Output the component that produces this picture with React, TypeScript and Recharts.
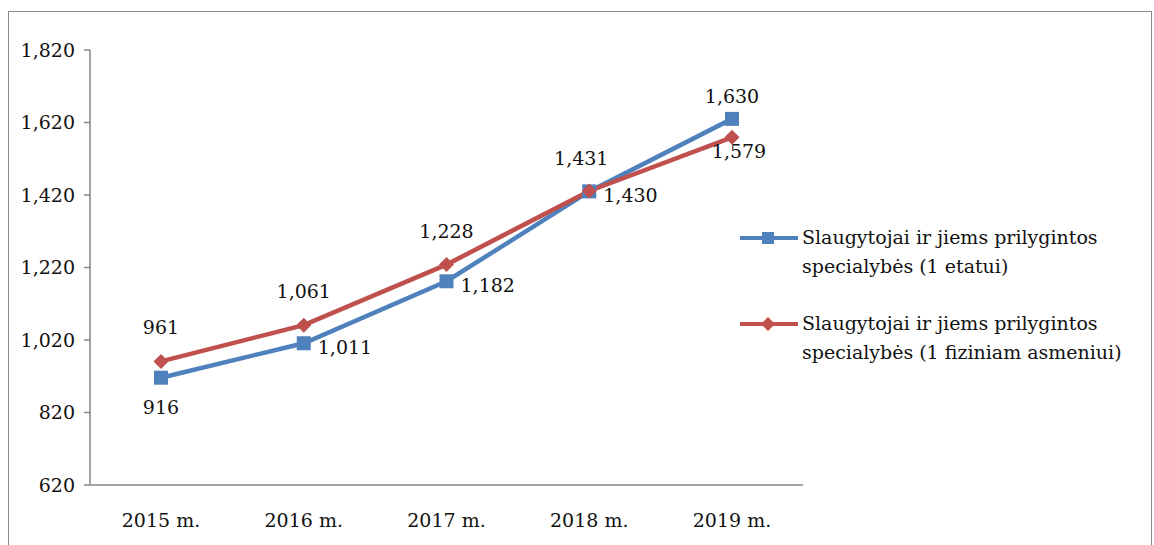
import { LineChart, Line, XAxis, YAxis, Legend, LabelList } from "recharts";

const years = ["2015 m.", "2016 m.", "2017 m.", "2018 m.", "2019 m."];
const perPost = [916, 1011, 1182, 1430, 1630];
const perPerson = [961, 1061, 1228, 1431, 1579];
const yTicks = [620, 820, 1020, 1220, 1420, 1620, 1820];
const bandEdges = [0, 1, 2, 3, 4, 5];

const seriesNames = [
  ["Slaugytojai ir jiems prilygintos", "specialybės (1 etatui)"],
  ["Slaugytojai ir jiems prilygintos", "specialybės (1 fiziniam asmeniui)"],
];

// where each value label sits relative to its point
const bluePlace = ["below", "right", "right", "right", "aboveNear"];
const redPlace = ["above", "above", "above", "aboveLeft", "belowRight"];

const BLUE = "#4F81BD";
const RED = "#C0504D";
const AXIS = "#868686";
const FONT = "DejaVu Serif";
const FS = 19;

const data = years.map((year, i) => ({ year, perPost: perPost[i], perPerson: perPerson[i] }));

const fmt = (v: number) => v.toLocaleString("en-US");

const Square = ({ cx, cy }: any) => <rect x={cx - 7} y={cy - 7} width={14} height={14} fill={BLUE} />;
const Diamond = ({ cx, cy }: any) => (
  <path d={`M${cx},${cy - 7.5}L${cx + 7.5},${cy}L${cx},${cy + 7.5}L${cx - 7.5},${cy}Z`} fill={RED} />
);

const makeLabel = (places: string[]) => (props: any) => {
  const { x, y, value, index } = props;
  const p = places[index];
  let tx = x, ty = y, anchor = "middle";
  if (p === "below") ty = y + 29;
  else if (p === "above") ty = y - 34;
  else if (p === "aboveNear") ty = y - 23;
  else if (p === "right") { tx = x + 14; ty = y + 4; anchor = "start"; }
  else if (p === "aboveLeft") { tx = x - 8; ty = y - 33; }
  else if (p === "belowRight") { tx = x + 7; ty = y + 14; }
  return (
    <text x={tx} y={ty} textAnchor={anchor} dominantBaseline="central" fontFamily={FONT} fontSize={FS} fill="#111">
      {fmt(value)}
    </text>
  );
};

const LegendBox = () => (
  <div style={{ width: 420, fontFamily: FONT, fontSize: FS, color: "#111", lineHeight: "29px" }}>
    {seriesNames.map((lines, i) => (
      <div key={i} style={{ display: "flex", alignItems: "flex-start", marginBottom: i === 0 ? 28 : 0 }}>
        <svg width={62} height={29} style={{ flex: "none" }}>
          <line x1={0} y1={15} x2={58} y2={15} stroke={i === 0 ? BLUE : RED} strokeWidth={4} />
          {i === 0 ? (
            <rect x={22} y={9} width={12} height={12} fill={BLUE} />
          ) : (
            <path d="M28,8L35,15L28,22L21,15Z" fill={RED} />
          )}
        </svg>
        <div>
          {lines.map((t) => (
            <div key={t}>{t}</div>
          ))}
        </div>
      </div>
    ))}
  </div>
);

export default function App() {
  return (
    <div
      style={{
        position: "absolute",
        left: 8,
        top: 11,
        width: 1142,
        height: 545,
        border: "1px solid #8a8a8a",
        background: "#fff",
        fontFamily: FONT,
      }}
    >
      <LineChart width={1142} height={540} data={data} margin={{ top: 38, right: 348, bottom: 26, left: 11 }}>
        <XAxis
          xAxisId="a"
          type="number"
          domain={[0, 5]}
          ticks={bandEdges}
          allowDataOverflow
          height={1}
          tick={false}
          tickSize={6}
          stroke={AXIS}
          strokeWidth={1.5}
        />
        <XAxis
          xAxisId="b"
          dataKey="year"
          height={40}
          axisLine={false}
          tickLine={false}
          padding={{ left: 71, right: 71 }}
          tickMargin={22}
          tick={{ fontFamily: FONT, fontSize: FS, fill: "#111" }}
        />
        <YAxis
          domain={[620, 1820]}
          ticks={yTicks}
          width={70}
          interval={0}
          tickFormatter={fmt}
          tickSize={6}
          tickMargin={9}
          stroke={AXIS}
          strokeWidth={1.5}
          tick={{ fontFamily: FONT, fontSize: FS, fill: "#111" }}
        />
        <Legend
          layout="vertical"
          align="right"
          verticalAlign="middle"
          content={<LegendBox />}
          wrapperStyle={{ left: 731, top: 211, width: 0, height: 0, overflow: "visible" }}
        />
        <Line
          xAxisId="b"
          dataKey="perPost"
          name={seriesNames[0].join(" ")}
          stroke={BLUE}
          strokeWidth={4.5}
          dot={<Square />}
          activeDot={false}
          isAnimationActive={false}
        >
          <LabelList dataKey="perPost" content={makeLabel(bluePlace)} />
        </Line>
        <Line
          xAxisId="b"
          dataKey="perPerson"
          name={seriesNames[1].join(" ")}
          stroke={RED}
          strokeWidth={4.5}
          dot={<Diamond />}
          activeDot={false}
          isAnimationActive={false}
        >
          <LabelList dataKey="perPerson" content={makeLabel(redPlace)} />
        </Line>
      </LineChart>
    </div>
  );
}
